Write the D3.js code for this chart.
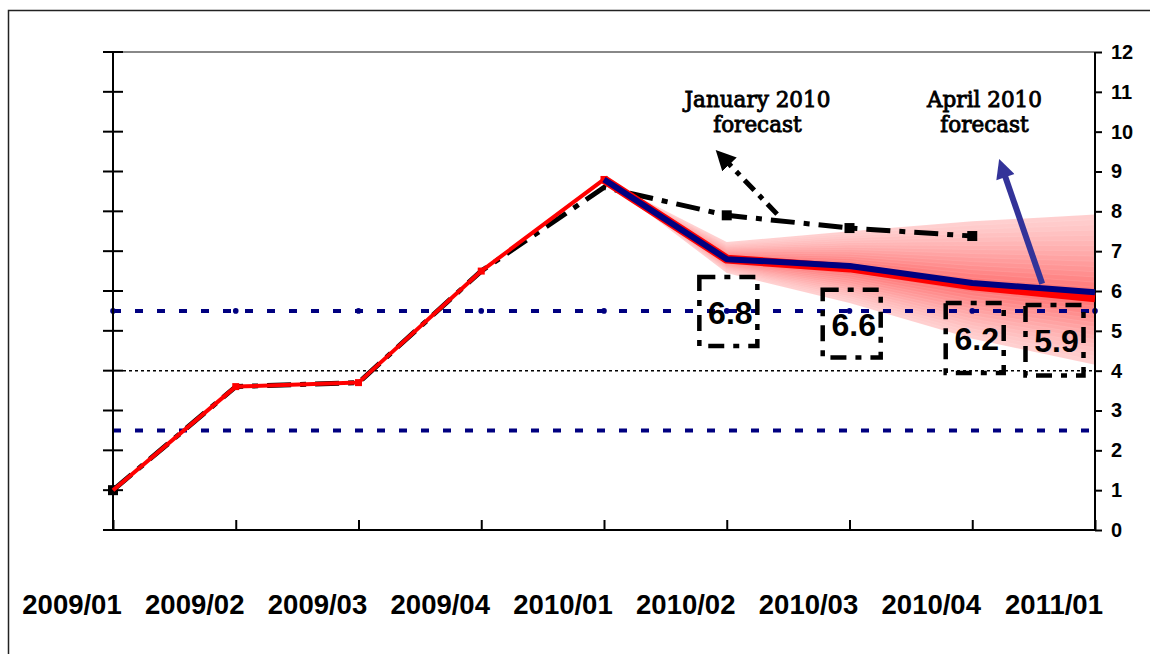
<!DOCTYPE html>
<html>
<head>
<meta charset="utf-8">
<script src="https://cdn.jsdelivr.net/npm/d3@7"></script>
<style>
  html, body { margin: 0; padding: 0; background: #fff; }
  svg { display: block; }
</style>
</head>
<body>
<svg id="chart" width="1150" height="654"></svg>
<script>
// ---------------- data ----------------
const categories = ["2009/01","2009/02","2009/03","2009/04","2010/01","2010/02","2010/03","2010/04","2011/01"];
const yTicks = [0,1,2,3,4,5,6,7,8,9,10,11,12];

// actual inflation (history)
const actual = [1.0, 3.6, 3.7, 6.5, 8.8, null, null, null, null];
// January 2010 forecast (dash-dot black)
const janForecast = [1.0, 3.6, 3.7, 6.5, 8.6, 7.9, 7.58, 7.38, null];
// April 2010 forecast (blue) and central fan line (red)
const aprForecast = [null, null, null, null, 8.8, 6.8, 6.63, 6.2, 5.97];
const fanCentre   = [null, null, null, null, 8.8, 6.8, 6.58, 6.13, 5.83];
const fanUpper    = [null, null, null, null, 8.8, 7.23, 7.5, 7.75, 7.92];
const fanLower    = [null, null, null, null, 8.8, 6.45, 5.7, 4.8, 4.15];
// reference lines
const bandTop = 5.5, bandBottom = 2.5, targetLine = 4.0;
// boxed value labels
const boxLabels = ["6.8", "6.6", "6.2", "5.9"];

// ---------------- layout ----------------
const svg = d3.select("#chart");
const pLeft = 113, pRight = 1095, pTop = 52, pBottom = 530;
const x = d3.scalePoint().domain(categories).range([pLeft, pRight]);
const xi = d3.scaleLinear().domain([0, categories.length - 1]).range([pLeft, pRight]);
const y = d3.scaleLinear().domain([0, 12]).range([pBottom, pTop]);

// outer frame
svg.append("rect").attr("x", 8.5).attr("y", 10.5).attr("width", 1200).attr("height", 700)
  .attr("fill", "none").attr("stroke", "#222").attr("stroke-width", 1.5);

// top plot border (gray)
svg.append("line").attr("x1", pLeft + 10).attr("x2", pRight).attr("y1", pTop).attr("y2", pTop)
  .attr("stroke", "#888").attr("stroke-width", 2);

// ---------------- fan ----------------
const fanIdx = d3.range(4, 9);
const nBands = 16;
const fanColor = d3.interpolateRgb("#ffcfcf", "#ff6a6a");
const fanG = svg.append("g");
for (let b = nBands; b >= 1; b--) {
  const t = b / nBands;
  const area = d3.area()
    .x(i => x(categories[i]))
    .y0(i => y(fanCentre[i] + t * (fanLower[i] - fanCentre[i])))
    .y1(i => y(fanCentre[i] + t * (fanUpper[i] - fanCentre[i])));
  fanG.append("path").attr("d", area(fanIdx))
    .attr("fill", fanColor(Math.pow(1 - t, 1.2)))
    .attr("stroke", "#fff").attr("stroke-opacity", 0.15).attr("stroke-width", 0.6);
}

// ---------------- reference lines ----------------
svg.append("line").attr("x1", pLeft).attr("x2", pRight).attr("y1", y(bandTop)).attr("y2", y(bandTop))
  .attr("stroke", "#000080").attr("stroke-width", 4).attr("stroke-dasharray", "8,14");
svg.selectAll(".bandDot").data(categories).join("circle")
  .attr("cx", d => x(d)).attr("cy", y(bandTop)).attr("r", 2.8).attr("fill", "#000080");
svg.append("line").attr("x1", pLeft).attr("x2", pRight).attr("y1", y(bandBottom)).attr("y2", y(bandBottom))
  .attr("stroke", "#000080").attr("stroke-width", 4).attr("stroke-dasharray", "8,14");
svg.append("line").attr("x1", pLeft + 10).attr("x2", pRight).attr("y1", y(targetLine)).attr("y2", y(targetLine))
  .attr("stroke", "#000").attr("stroke-width", 1.5).attr("stroke-dasharray", "3,3");

// ---------------- axes ----------------
// left axis: crossing ticks, no labels
svg.append("line").attr("x1", pLeft).attr("x2", pLeft).attr("y1", pTop).attr("y2", pBottom)
  .attr("stroke", "#000").attr("stroke-width", 2);
svg.selectAll(".lt").data(yTicks).join("line")
  .attr("x1", pLeft - 10).attr("x2", pLeft + 10).attr("y1", d => y(d)).attr("y2", d => y(d))
  .attr("stroke", "#000").attr("stroke-width", 2);

// right axis with labels
const yAxisR = d3.axisRight(y).tickValues(yTicks).tickSize(7).tickPadding(9).tickFormat(d3.format("d"));
const gR = svg.append("g").attr("transform", `translate(${pRight},0)`).call(yAxisR);
gR.select(".domain").attr("stroke", "#000").attr("stroke-width", 2).attr("d", `M0,${pTop}V${pBottom}`);
gR.selectAll(".tick line").attr("stroke", "#000").attr("stroke-width", 2);
gR.selectAll(".tick text").attr("font-family", "Liberation Sans, Arial, sans-serif")
  .attr("font-weight", "bold").attr("font-size", 20).attr("fill", "#000");

// bottom axis: ticks pointing up
const xAxis = d3.axisBottom(x).tickSize(-10).tickFormat("");
const gB = svg.append("g").attr("transform", `translate(0,${pBottom})`).call(xAxis);
gB.select(".domain").attr("stroke", "#000").attr("stroke-width", 2).attr("d", `M${pLeft - 9},0H${pRight}`);
gB.selectAll(".tick line").attr("stroke", "#000").attr("stroke-width", 2);
svg.selectAll(".xlab").data(categories).join("text")
  .attr("x", d => x(d) - 41).attr("y", 614)
  .attr("text-anchor", "middle")
  .attr("font-family", "Liberation Sans, Arial, sans-serif").attr("font-weight", "bold")
  .attr("font-size", 27.5).attr("fill", "#000")
  .text(d => d);

// ---------------- series ----------------
const idx = d3.range(categories.length);
const lineOf = arr => d3.line().defined(i => arr[i] != null)
  .x(i => x(categories[i])).y(i => y(arr[i]));

// January forecast
svg.append("path").attr("d", lineOf(janForecast)(idx))
  .attr("fill", "none").attr("stroke", "#000").attr("stroke-width", 5)
  .attr("stroke-dasharray", "24,9,6,9");
const janMarkIdx = [0, 5, 6, 7];
svg.selectAll(".janMark").data(janMarkIdx).join("rect")
  .attr("x", i => x(categories[i]) - 5).attr("y", i => y(janForecast[i]) - 5)
  .attr("width", 10).attr("height", 10).attr("fill", "#000");

// actual (red)
svg.append("path").attr("d", lineOf(actual)(idx))
  .attr("fill", "none").attr("stroke", "#ff0000").attr("stroke-width", 4)
  .attr("stroke-linejoin", "round");
svg.selectAll(".actMark").data(idx.filter(i => actual[i] != null && i > 0)).join("rect")
  .attr("x", i => x(categories[i]) - 3.5).attr("y", i => y(actual[i]) - 3.5)
  .attr("width", 7).attr("height", 7).attr("fill", "#ff0000");

// fan centre (red thick) and April forecast (blue)
svg.append("path").attr("d", lineOf(fanCentre)(idx))
  .attr("fill", "none").attr("stroke", "#ff0000").attr("stroke-width", 9)
  .attr("stroke-linejoin", "round");
svg.append("path").attr("d", lineOf(aprForecast)(idx))
  .attr("fill", "none").attr("stroke", "#000080").attr("stroke-width", 6)
  .attr("stroke-linejoin", "round");

// ---------------- boxed labels ----------------
const boxes = [
  { label: boxLabels[0], ci: 5.013, bTop: 6.35, bBot: 4.62 },
  { label: boxLabels[1], ci: 6.018, bTop: 6.03, bBot: 4.33 },
  { label: boxLabels[2], ci: 7.02,  bTop: 5.70, bBot: 3.94 },
  { label: boxLabels[3], ci: 7.67,  bTop: 5.65, bBot: 3.88 }
];
const boxW = 58;
boxes.forEach(b => {
  const cx = xi(b.ci);
  svg.append("rect")
    .attr("x", cx - boxW / 2).attr("y", y(b.bTop))
    .attr("width", boxW).attr("height", y(b.bBot) - y(b.bTop))
    .attr("fill", "none").attr("stroke", "#000").attr("stroke-width", 4.5)
    .attr("stroke-dasharray", "16,9,6,9");
  svg.append("text")
    .attr("x", cx + 2).attr("y", (y(b.bTop) + y(b.bBot)) / 2 + 12)
    .attr("text-anchor", "middle")
    .attr("font-family", "Liberation Sans, Arial, sans-serif").attr("font-weight", "bold")
    .attr("font-size", 32).attr("fill", "#000")
    .text(b.label);
});

// ---------------- annotations ----------------
const defs = svg.append("defs");
defs.append("marker").attr("id", "headBlack").attr("viewBox", "0 0 10 10")
  .attr("refX", 2).attr("refY", 5).attr("markerWidth", 4).attr("markerHeight", 4)
  .attr("orient", "auto").attr("markerUnits", "strokeWidth")
  .append("path").attr("d", "M0,0L10,5L0,10Z").attr("fill", "#000");
defs.append("marker").attr("id", "headBlue").attr("viewBox", "0 0 10 10")
  .attr("refX", 2).attr("refY", 5).attr("markerWidth", 3.6).attr("markerHeight", 3.2)
  .attr("orient", "auto").attr("markerUnits", "strokeWidth")
  .append("path").attr("d", "M0,0L10,5L0,10Z").attr("fill", "#333399");

const annotations = [
  { lines: ["January 2010", "forecast"], ci: 5.25, v: 10.62,
    arrow: { from: [5.41, 7.93], to: [5.0, 9.25] }, color: "#000", dash: "14,7,5,7", w: 5, head: "headBlack" },
  { lines: ["April 2010", "forecast"], ci: 7.10, v: 10.62,
    arrow: { from: [7.57, 6.18], to: [7.26, 8.95] }, color: "#333399", dash: null, w: 6, head: "headBlue" }
];
annotations.forEach(a => {
  const t = svg.append("text")
    .attr("text-anchor", "middle")
    .attr("font-family", "DejaVu Serif, serif").attr("font-size", 21.5)
    .attr("fill", "#000").attr("stroke", "#000").attr("stroke-width", 0.9);
  a.lines.forEach((ln, k) => {
    t.append("tspan").attr("x", xi(a.ci)).attr("y", y(a.v) + k * 25).text(ln);
  });
  const p = svg.append("line")
    .attr("x1", xi(a.arrow.from[0])).attr("y1", y(a.arrow.from[1]))
    .attr("x2", xi(a.arrow.to[0])).attr("y2", y(a.arrow.to[1]))
    .attr("stroke", a.color).attr("stroke-width", a.w)
    .attr("marker-end", `url(#${a.head})`);
  if (a.dash) p.attr("stroke-dasharray", a.dash);
});
</script>
</body>
</html>
